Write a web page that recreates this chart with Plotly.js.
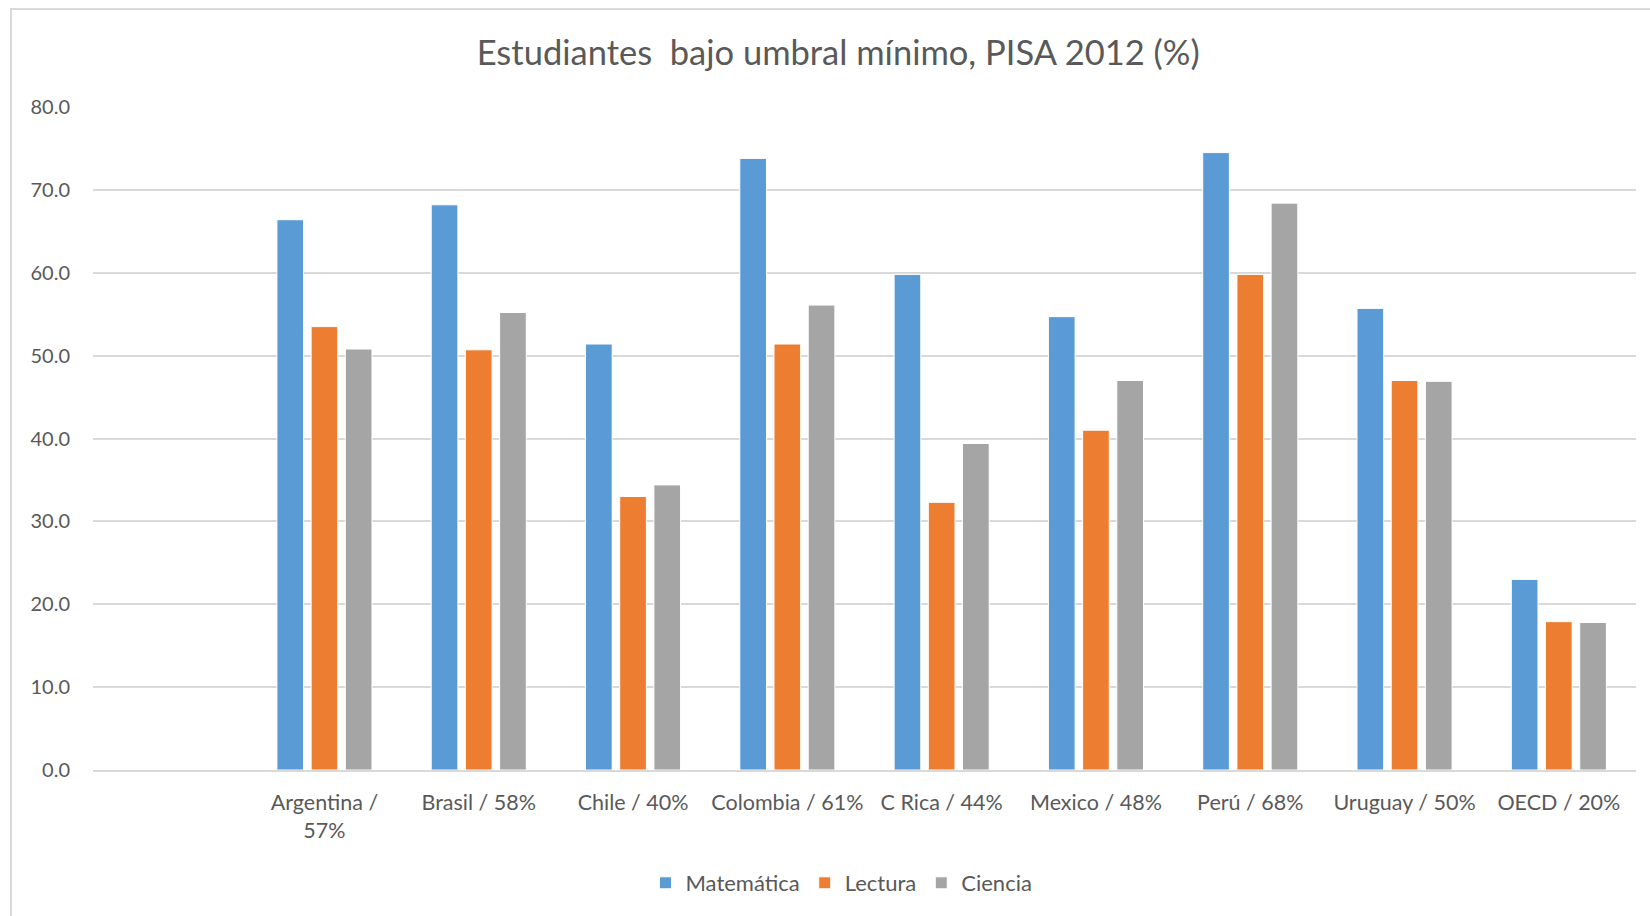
<!DOCTYPE html>
<html>
<head>
<meta charset="utf-8">
<script src="https://cdn.plot.ly/plotly-3.0.1.min.js"></script>
<style>
html,body{margin:0;padding:0;background:#fff;}
#chart{position:absolute;left:0;top:0;width:1650px;height:916px;}
#frame{position:absolute;left:10px;top:8px;width:1660px;height:920px;border-left:2px solid #d9d9d9;border-top:2px solid #d9d9d9;pointer-events:none;}
</style>
</head>
<body>
<div id="chart"></div>
<div id="frame"></div>
<script>
const categories = ["Argentina /<br>57%", "Brasil / 58%", "Chile / 40%", "Colombia / 61%", "C Rica / 44%", "Mexico / 48%", "Perú / 68%", "Uruguay / 50%", "OECD / 20%"];
const matematica = [66.4, 68.2, 51.4, 73.8, 59.8, 54.7, 74.5, 55.7, 23.0];
const lectura    = [53.5, 50.7, 33.0, 51.4, 32.3, 41.0, 59.8, 47.0, 17.9];
const ciencia    = [50.8, 55.2, 34.4, 56.1, 39.4, 47.0, 68.4, 46.9, 17.8];
const seriesNames = ["Matemática", "Lectura", "Ciencia"];
const yTicks = [0, 10, 20, 30, 40, 50, 60, 70, 80];

const colors = ["#5B9BD5", "#ED7D31", "#A5A5A5"];
const vals = [matematica, lectura, ciencia];
const font = "Lato, 'Open Sans', sans-serif";

const traces = vals.map((v, i) => ({
  type: "bar",
  name: seriesNames[i],
  x: categories,
  y: v,
  marker: {color: colors[i], line: {color: "#ffffff", width: 1}},
  hoverinfo: "x+y+name"
}));

const layout = {
  width: 1650, height: 916,
  paper_bgcolor: "#ffffff", plot_bgcolor: "#ffffff",
  margin: {l: 93, r: 14, t: 107, b: 146, pad: 0},
  font: {family: font, color: "#595959"},
  title: {
    text: "Estudiantes\u00a0 bajo umbral mínimo, PISA 2012 (%)",
    font: {family: font, size: 34.5, color: "#595959"},
    xref: "container", x: 0.508, xanchor: "center",
    yref: "container", y: 1 - 53 / 916, yanchor: "middle"
  },
  barmode: "group",
  bargap: 0.335,
  bargroupgap: 0.22,
  showlegend: true,
  legend: {
    orientation: "h",
    xref: "container", x: 0.51, xanchor: "center",
    yref: "container", y: 1 - 883 / 916, yanchor: "middle",
    font: {family: font, size: 22, color: "#595959"},
    itemwidth: 30, tracegroupgap: 0
  },
  xaxis: {
    type: "category",
    range: [-1.5, 8.5],
    showgrid: false,
    showline: true, linecolor: "#d9d9d9", linewidth: 2,
    ticks: "", ticklabelstandoff: 12,
    tickfont: {family: font, size: 21.5, color: "#595959"},
    fixedrange: true
  },
  yaxis: {
    range: [0, 80],
    tickvals: yTicks,
    tickformat: ".1f",
    showgrid: true, gridcolor: "#d9d9d9", gridwidth: 2,
    zeroline: false, showline: false,
    ticks: "", ticklabelstandoff: 22,
    tickfont: {family: font, size: 20, color: "#595959"},
    fixedrange: true
  }
};

Plotly.newPlot("chart", traces, layout, {displayModeBar: false, staticPlot: false});
</script>
</body>
</html>
